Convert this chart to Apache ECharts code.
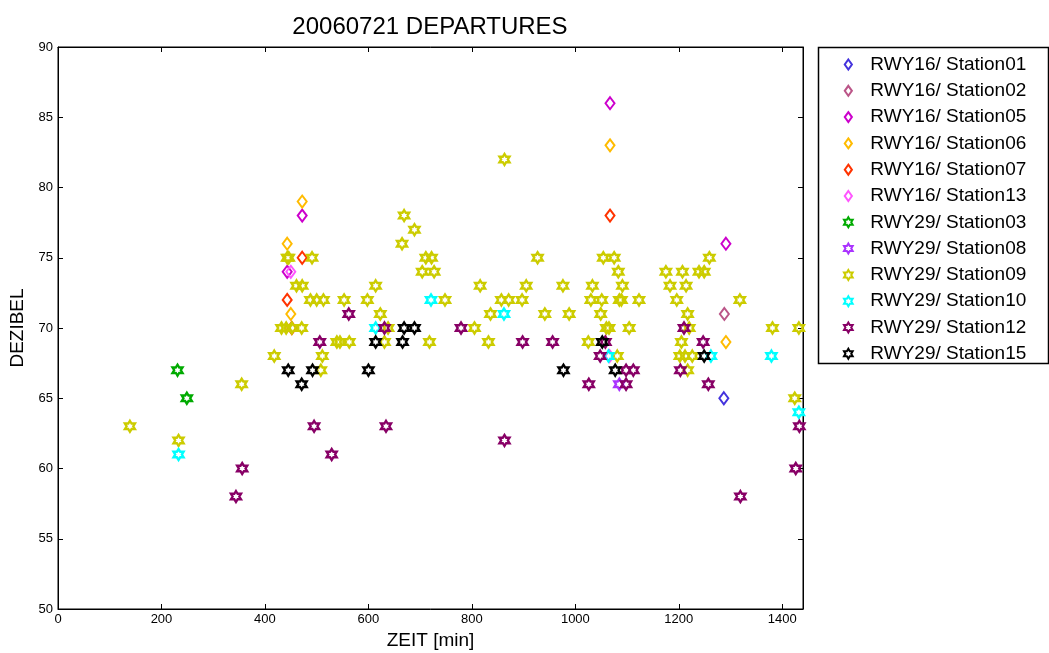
<!DOCTYPE html>
<html>
<head>
<meta charset="utf-8">
<script src="https://cdn.jsdelivr.net/npm/echarts@6/dist/echarts.min.js"></script>
<style>
html,body{margin:0;padding:0;background:#fff;}
#chart{width:1049px;height:653px;}
</style>
</head>
<body>
<div id="chart"></div>
<script>
// ---- data (x = minutes, y = dB) ----
const titleText = '20060721 DEPARTURES';
const xTicks = [0, 200, 400, 600, 800, 1000, 1200, 1400];
const yTicks = [50, 55, 60, 65, 70, 75, 80, 85, 90];

const st01 = [[1287, 65]];
const st02 = [[1288, 71]];
const st05 = [[472, 78], [443, 74], [1067, 86], [1291, 76]];
const st06 = [[472, 79], [443, 76], [450, 71], [1067, 83], [1291, 69]];
const st07 = [[472, 75], [443, 72], [452, 70], [1067, 78]];
const st13 = [[450, 74], [1066, 68]];
const st03 = [[231, 67], [249, 65]];
const st08 = [[1085, 66]];
const st09 = [
  [139, 63], [233, 62], [355, 66], [1424, 65],
  [418, 68], [511, 68], [1081, 68], [1202, 68], [1212, 68], [1226, 68],
  [508, 67], [1217, 67],
  [539, 69], [545, 69], [563, 69], [631, 69], [718, 69], [832, 69], [1025, 69], [1205, 69],
  [432, 70], [441, 70], [452, 70], [471, 70], [638, 70], [805, 70], [1060, 70], [1065, 70], [1104, 70], [1220, 70], [1381, 70], [1432, 70],
  [623, 71], [836, 71], [941, 71], [988, 71], [1049, 71], [1217, 71],
  [488, 72], [500, 72], [513, 72], [553, 72], [598, 72], [748, 72], [857, 72], [871, 72], [897, 72], [1030, 72], [1051, 72], [1085, 72], [1089, 72], [1123, 72], [1196, 72], [1318, 72],
  [461, 73], [472, 73], [614, 73], [816, 73], [905, 73], [976, 73], [1033, 73], [1091, 73], [1183, 73], [1214, 73],
  [704, 74], [727, 74], [1083, 74], [1175, 74], [1207, 74], [1239, 74], [1249, 74],
  [443, 75], [446, 75], [491, 75], [711, 75], [722, 75], [927, 75], [1054, 75], [1075, 75], [1259, 75],
  [665, 76], [689, 77], [669, 78], [863, 82]
];
const st10 = [[233, 61], [614, 70], [721, 72], [862, 71], [1064, 68], [1262, 68], [1379, 68], [1432, 64]];
const st12 = [
  [344, 58], [356, 60], [495, 63], [529, 61], [634, 63], [506, 69], [562, 71], [631, 70], [779, 70],
  [863, 62], [898, 69], [956, 69], [1058, 69], [1048, 68], [1026, 66], [1098, 67], [1112, 67], [1098, 66],
  [1203, 67], [1210, 70], [1247, 69], [1257, 66], [1319, 58], [1426, 60], [1433, 63]
];
const st15 = [[445, 67], [492, 67], [471, 66], [614, 69], [600, 67], [666, 69], [669, 70], [689, 70], [977, 67], [1052, 69], [1077, 67], [1249, 68]];

const seriesDefs = [
  ['RWY16/ Station01', st01, '#4433dd', 'd'],
  ['RWY16/ Station02', st02, '#bb5588', 'd'],
  ['RWY16/ Station05', st05, '#cc00cc', 'd'],
  ['RWY16/ Station06', st06, '#ffbb00', 'd'],
  ['RWY16/ Station07', st07, '#ff3300', 'd'],
  ['RWY16/ Station13', st13, '#ff55ff', 'd'],
  ['RWY29/ Station03', st03, '#00aa00', 'h'],
  ['RWY29/ Station08', st08, '#aa33ff', 'h'],
  ['RWY29/ Station09', st09, '#cccc00', 'h'],
  ['RWY29/ Station10', st10, '#00ffff', 'h'],
  ['RWY29/ Station12', st12, '#880066', 'h'],
  ['RWY29/ Station15', st15, '#000000', 'h']
];

const DIAMOND = 'path://M5 0 L10 7 L5 14 L0 7 Z';
const HEXAGRAM = 'path://M10 0 L12.89 5 L18.66 5 L15.77 10 L18.66 15 L12.89 15 L10 20 L7.11 15 L1.34 15 L4.23 10 L1.34 5 L7.11 5 Z';

const series = seriesDefs.map(([name, data, color, kind]) => ({
  name: name,
  type: 'scatter',
  data: data,
  xAxisIndex: 0,
  yAxisIndex: 0,
  symbol: kind === 'd' ? DIAMOND : HEXAGRAM,
  symbolSize: kind === 'd' ? [9, 12] : [10, 11],
  symbolKeepAspect: false,
  itemStyle: { color: 'rgba(0,0,0,0)', borderColor: color, borderWidth: kind === 'd' ? 2 : 2.4, opacity: 1 },
  emphasis: { disabled: true },
  animation: false
}));

const chart = echarts.init(document.getElementById('chart'), null, { renderer: 'canvas' });
const FONT = 'Liberation Sans, Arial, Helvetica, sans-serif';

chart.setOption({
  backgroundColor: '#fff',
  animation: false,
  textStyle: { fontFamily: FONT },
  title: {
    text: titleText,
    left: 425,
    top: 10,
    textAlign: 'center',
    textStyle: { fontFamily: FONT, fontSize: 24, fontWeight: 'normal', color: '#000' }
  },
  grid: { left: 58, right: 246, top: 47, bottom: 44, show: true, borderColor: '#000', borderWidth: 1, containLabel: false, outerBoundsMode: 'none' },
  legend: {
    orient: 'vertical',
    left: 838,
    top: 50,
    itemWidth: 10,
    itemHeight: 10,
    itemGap: 7.3,
    selectedMode: false,
    textStyle: { fontFamily: FONT, fontSize: 19, color: '#000', padding: [0, 0, 0, 12] },
    data: seriesDefs.map(s => s[0])
  },
  graphic: [{
    type: 'rect',
    shape: { x: 818.5, y: 47.5, width: 230, height: 316 },
    style: { fill: 'none', stroke: '#000', lineWidth: 1.5 },
    silent: true
  }],
  xAxis: [{
    type: 'value', min: 0, max: 1440, interval: 200,
    name: 'ZEIT [min]', nameLocation: 'middle', nameGap: 20,
    nameTextStyle: { fontFamily: FONT, fontSize: 19, color: '#000' },
    axisLine: { show: true, onZero: false, lineStyle: { color: '#000', width: 1 } },
    axisTick: { show: true, inside: true, length: 5, lineStyle: { color: '#000' } },
    axisLabel: { color: '#000', fontSize: 13, fontFamily: FONT, margin: 4, showMaxLabel: false,
      formatter: v => xTicks.indexOf(v) >= 0 ? String(v) : '' },
    splitLine: { show: false }
  }, {
    type: 'value', min: 0, max: 1440, interval: 200, position: 'top',
    axisLine: { show: true, onZero: false, lineStyle: { color: '#000' } },
    axisTick: { show: true, inside: true, length: 5, lineStyle: { color: '#000' } },
    axisLabel: { show: false }, splitLine: { show: false }
  }],
  yAxis: [{
    type: 'value', min: 50, max: 90, interval: 5, position: 'left',
    name: 'DEZIBEL', nameLocation: 'middle', nameGap: 28,
    nameTextStyle: { fontFamily: FONT, fontSize: 19, color: '#000' },
    axisLine: { show: true, onZero: false, lineStyle: { color: '#000', width: 1 } },
    axisTick: { show: true, inside: true, length: 5, lineStyle: { color: '#000' } },
    axisLabel: { color: '#000', fontSize: 13, fontFamily: FONT, margin: 5,
      formatter: v => yTicks.indexOf(v) >= 0 ? String(v) : '' },
    splitLine: { show: false }
  }, {
    type: 'value', min: 50, max: 90, interval: 5, position: 'right',
    axisLine: { show: true, onZero: false, lineStyle: { color: '#000' } },
    axisTick: { show: true, inside: true, length: 5, lineStyle: { color: '#000' } },
    axisLabel: { show: false }, splitLine: { show: false }
  }],
  series: series
});
</script>
</body>
</html>
